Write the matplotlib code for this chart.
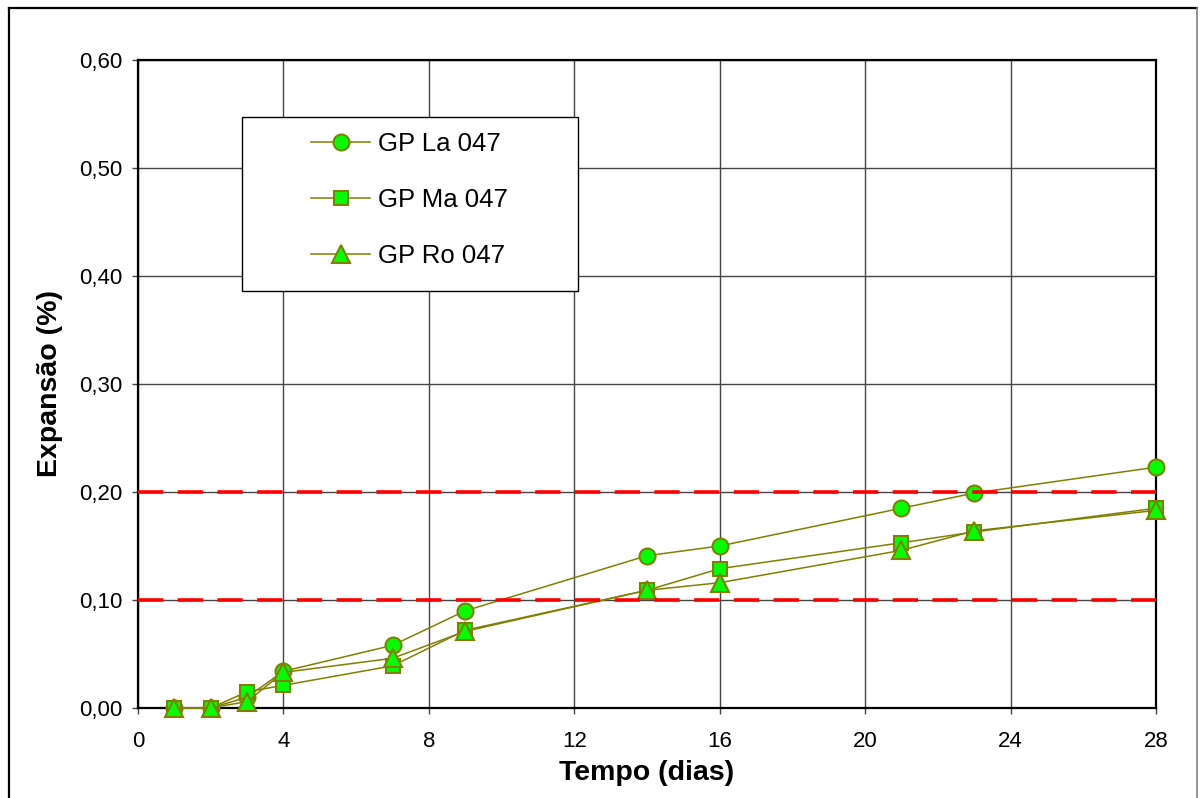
import matplotlib.pyplot as plt
from matplotlib.lines import Line2D
from matplotlib.patches import Rectangle
from matplotlib.ticker import FuncFormatter

plt.rcParams['font.family'] = ['Liberation Sans', 'DejaVu Sans']

# dias
dias = [1, 2, 3, 4, 7, 9, 14, 16, 21, 23, 28]
# expansao (%)
la_047 = [0.000, 0.000, 0.010, 0.034, 0.058, 0.090, 0.141, 0.150, 0.185, 0.199, 0.223]
ma_047 = [0.000, 0.000, 0.015, 0.021, 0.039, 0.072, 0.109, 0.129, 0.153, 0.163, 0.185]
ro_047 = [0.000, 0.000, 0.006, 0.033, 0.046, 0.071, 0.109, 0.116, 0.146, 0.164, 0.183]
labels = ['GP La 047', 'GP Ma 047', 'GP Ro 047']
limites = [0.10, 0.20]

W, H = 1201, 798
fig = plt.figure(figsize=(W / 100, H / 100), dpi=100)
ax = fig.add_axes([138 / W, 1 - 708 / H, (1156 - 138) / W, (708 - 60) / H])

olive = '#808000'
verde = '#00ff00'
series = [la_047, ma_047, ro_047]
markers = ['o', 's', '^']
msizes = [11.5, 10.5, 12.5]
handles = []
for vals, m, ms, lab in zip(series, markers, msizes, labels):
    h, = ax.plot(dias, vals, color=olive, lw=1.1, marker=m, markersize=ms,
                 markerfacecolor=verde, markeredgecolor=olive, markeredgewidth=1.5,
                 label=lab, clip_on=False, zorder=3)
    handles.append(h)

for y in limites:
    ax.axhline(y, color='red', lw=2.6, dashes=(7, 4), zorder=4)

ax.set_xlim(0, 28)
ax.set_ylim(0, 0.6)
ax.set_xticks(range(0, 29, 4))
ax.set_yticks([0, 0.1, 0.2, 0.3, 0.4, 0.5, 0.6])
ax.yaxis.set_major_formatter(FuncFormatter(lambda v, p: f'{v:.2f}'.replace('.', ',')))
ax.grid(True, color='#444444', lw=1.0, zorder=0)
ax.set_axisbelow(True)
ax.tick_params(direction='out', length=4.5, width=1, color='#444444', labelsize=16)
ax.tick_params(axis='x', pad=12)
ax.tick_params(axis='y', pad=7)
for s in ax.spines.values():
    s.set_linewidth(1.6)
    s.set_color('black')

ax.set_xlabel('Tempo (dias)', fontsize=20.5, fontweight='bold', labelpad=6)
ax.set_ylabel('Expansão (%)', fontsize=20.5, fontweight='bold', labelpad=11)

# caixa da legenda
fig.patches.append(Rectangle((242 / W, 1 - 291 / H), (578 - 242) / W, (291 - 117) / H,
                             transform=fig.transFigure, facecolor='white',
                             edgecolor='black', lw=1.0, zorder=5))
leg = fig.legend(handles=handles, loc='upper left',
                 bbox_to_anchor=(311 / W, 1 - 132 / H), frameon=False,
                 fontsize=18.5, handlelength=2.3, handletextpad=0.3,
                 labelspacing=1.25, borderpad=0, borderaxespad=0)
leg.set_zorder(6)

# moldura externa
fig.add_artist(Line2D([9 / W, 9 / W], [0, 1 - 8 / H], color='black', lw=1.6))
fig.add_artist(Line2D([9 / W, 1197 / W], [1 - 8 / H, 1 - 8 / H], color='black', lw=1.6))
fig.add_artist(Line2D([1197 / W, 1197 / W], [0, 1 - 8 / H], color='#808080', lw=1.2))

fig.savefig('out.png', dpi=100)
